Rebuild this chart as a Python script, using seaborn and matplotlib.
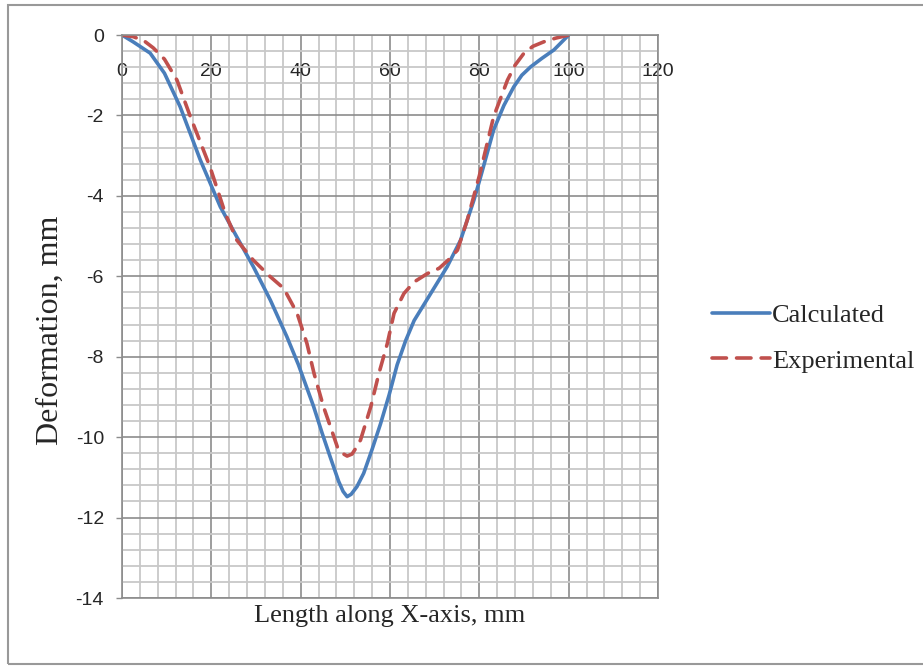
import matplotlib
matplotlib.use("Agg")
import matplotlib.pyplot as plt
from matplotlib.patches import Rectangle
from matplotlib.ticker import MultipleLocator
import seaborn as sns
import pandas as pd

# values
calc_x = [0, 2.5, 6.3, 9.5, 13, 17.5, 22, 25.7, 29.4, 33.2, 36.9, 39.5, 42.9, 44.8,
          46.6, 48.5, 49.5, 50.4, 51.3, 52.6, 54.1, 56, 57.9, 59.8, 61.6, 63.5, 65.4,
          69.1, 72.8, 75.8, 78.8, 80.3, 83.2, 85.5, 87.7, 89.5, 91.5, 94, 96.7, 100]
calc_y = [0, -0.17, -0.45, -0.95, -1.78, -3.1, -4.27, -5.02, -5.76, -6.59, -7.5, -8.2,
          -9.24, -9.9, -10.49, -11.1, -11.35, -11.48, -11.42, -11.23, -10.9, -10.3,
          -9.66, -8.95, -8.2, -7.6, -7.1, -6.43, -5.76, -5.1, -4.1, -3.52, -2.36, -1.75,
          -1.29, -1.0, -0.79, -0.58, -0.37, 0]

exp_x = [0, 2.5, 5, 7, 9.5, 12.3, 15.3, 19.7, 23.1, 25.7, 29.4, 33.2, 36.2, 39.2, 41.4,
         43, 45.1, 47, 48.2, 49.3, 50.4, 51.5, 52.5, 53.4, 55.7, 57.5, 59.4, 60.9,
         63.1, 65.4, 68.4, 71, 73, 75.1, 77.3, 80, 83.2, 86.3, 88, 90, 92, 94.4, 97, 100]
exp_y = [0, -0.04, -0.15, -0.32, -0.6, -1.12, -2.03, -3.28, -4.43, -5.1, -5.6, -6.01,
         -6.3, -6.92, -7.67, -8.42, -9.24, -9.85, -10.24, -10.4, -10.47, -10.42, -10.25,
         -10.07, -9.24, -8.42, -7.67, -6.92, -6.43, -6.14, -5.93, -5.8, -5.6, -5.35,
         -4.6, -3.5, -2.03, -1.12, -0.75, -0.45, -0.28, -0.17, -0.08, 0]

series_names = ["Calculated", "Experimental"]
x_ticks = [0, 20, 40, 60, 80, 100, 120]
y_ticks = [0, -2, -4, -6, -8, -10, -12, -14]

df = pd.concat([
    pd.DataFrame({"x": calc_x, "y": calc_y, "series": series_names[0]}),
    pd.DataFrame({"x": exp_x, "y": exp_y, "series": series_names[1]}),
])

sns.set_style("white")
plt.rcParams["font.family"] = ["Liberation Sans", "DejaVu Sans"]
plt.rcParams["axes.unicode_minus"] = False

fig = plt.figure(figsize=(9.23, 6.66), dpi=100)
ax = fig.add_axes([0.1322, 0.1021, 0.5807, 0.8453])

sns.lineplot(data=df, x="x", y="y", hue="series", style="series",
             palette={"Calculated": "#4a7ebb", "Experimental": "#c0504d"},
             dashes={"Calculated": "", "Experimental": (4, 2.8)},
             estimator=None, sort=False, linewidth=2.6, legend=False, ax=ax)
for ln in ax.lines:
    ln.set_solid_joinstyle("round")
    ln.set_dash_joinstyle("round")
    ln.set_dash_capstyle("round")

ax.set_xlim(0, 120)
ax.set_ylim(-14, 0)
ax.set_xticks(x_ticks)
ax.set_yticks(y_ticks)
ax.xaxis.set_minor_locator(MultipleLocator(4))
ax.yaxis.set_minor_locator(MultipleLocator(0.4))
ax.grid(which="major", color="#8c8c8c", linewidth=1.2)
ax.grid(which="minor", color="#c8c8c8", linewidth=1.3)
ax.set_axisbelow(True)

# x axis crosses at y=0 (top), labels drawn just below it
ax.tick_params(axis="x", which="both", bottom=False, labelbottom=False,
               top=False, labeltop=True, pad=-36, labelsize=14)
ax.tick_params(axis="y", which="major", left=True, length=4, width=1,
               color="#8c8c8c", pad=9, labelsize=14, direction="out")
ax.tick_params(axis="y", which="minor", left=False)
for s in ax.spines.values():
    s.set_color("#8c8c8c")
    s.set_linewidth(1.2)

ax.set_xlabel("Length along X-axis, mm", family=["Liberation Serif"], fontsize=19, va="top")
ax.set_ylabel("Deformation, mm", family=["Liberation Serif"], fontsize=23)
ax.xaxis.set_label_coords(0.5, -0.012)
ax.yaxis.set_label_coords(-0.106, 0.476)

ax.legend(ax.lines[:2], series_names, loc="center left",
          bbox_to_anchor=(0.771, 0.4925), bbox_transform=fig.transFigure,
          frameon=False, prop={"family": "Liberation Serif", "size": 19},
          handlelength=2.2, handletextpad=0.1, labelspacing=0.85,
          borderpad=0, borderaxespad=0)

fig.patches.append(Rectangle((0.009, 0.003), 1.0, 0.989, transform=fig.transFigure,
                             fill=False, edgecolor="#999999", linewidth=1.5))

fig.savefig("out.png", dpi=100)
